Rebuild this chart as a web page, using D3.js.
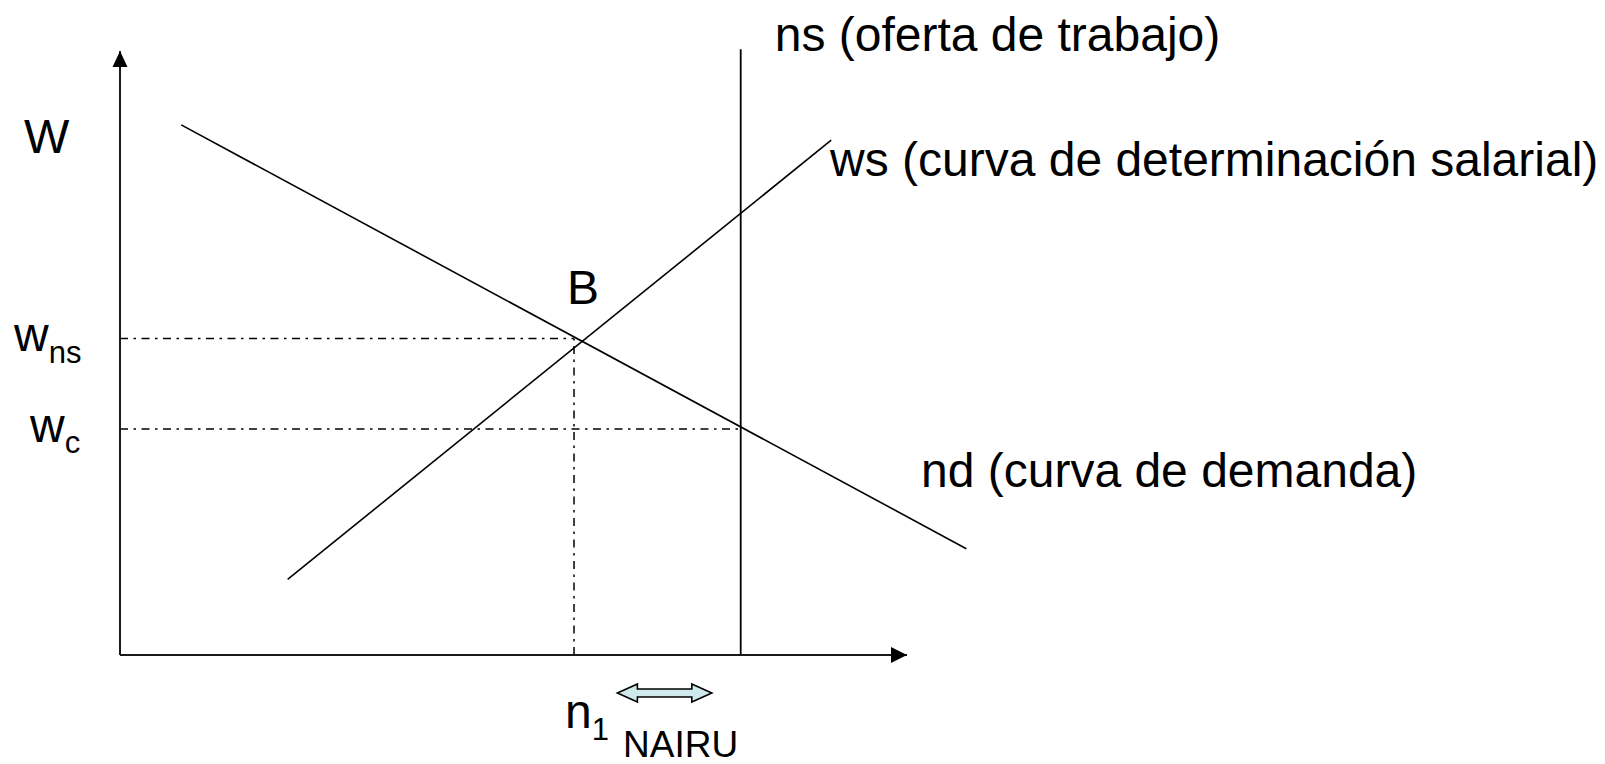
<!DOCTYPE html>
<html>
<head>
<meta charset="utf-8">
<script src="https://cdn.jsdelivr.net/npm/d3@7"></script>
<style>
html,body{margin:0;padding:0;background:#fff;}
svg{display:block;}
text{font-family:"Liberation Sans",Arial,sans-serif;fill:#000;}
</style>
</head>
<body>
<svg id="chart" width="1605" height="764"></svg>
<script>
// ---- data (model units) ----
const ndCurve = [[0.778, 8.777], [10.754, 1.76]];      // nd (curva de demanda)
const wsCurve = [[2.13, 1.252], [9.037, 8.523]];       // ws (curva de determinación salarial)
const nsValue = 7.887;                                  // ns (oferta de trabajo)
const nsTop = 10.03;
const n1Value = 5.769;                                  // n1
const wnsValue = 5.24;                                  // w_ns
const wcValue = 3.74;                                   // w_c
const nairuRange = [6.32, 7.52];                        // NAIRU arrow span
const axisMax = [10, 10];
const curveLabels = ["ns (oferta de trabajo)", "ws (curva de determinación salarial)", "nd (curva de demanda)"];

const svg = d3.select("#chart");
const x = d3.scaleLinear().domain([0, axisMax[0]]).range([120, 907]);
const y = d3.scaleLinear().domain([0, axisMax[1]]).range([655, 51]);

const line = d3.line().x(d => x(d[0])).y(d => y(d[1]));

// dash-dot guide lines
const dashDot = "8,5.5,2.5,5.5";
svg.append("path").attr("d", line([[0, wnsValue], [n1Value, wnsValue]]))
  .attr("stroke", "#000").attr("stroke-width", 1.5).attr("stroke-dasharray", dashDot).attr("fill", "none");
svg.append("path").attr("d", line([[0, wcValue], [nsValue, wcValue]]))
  .attr("stroke", "#000").attr("stroke-width", 1.5).attr("stroke-dasharray", dashDot).attr("fill", "none");
svg.append("path").attr("d", line([[n1Value, 0], [n1Value, wnsValue]]))
  .attr("stroke", "#000").attr("stroke-width", 1.5).attr("stroke-dasharray", dashDot).attr("fill", "none");

// curves
svg.append("path").attr("d", line(ndCurve)).attr("stroke", "#000").attr("stroke-width", 1.6).attr("fill", "none");
svg.append("path").attr("d", line(wsCurve)).attr("stroke", "#000").attr("stroke-width", 1.6).attr("fill", "none");
svg.append("path").attr("d", line([[nsValue, 0], [nsValue, nsTop]])).attr("stroke", "#000").attr("stroke-width", 1.8).attr("fill", "none");

// axes
svg.append("path").attr("d", line([[0, 0], [0, axisMax[1]]])).attr("stroke", "#1a1a1a").attr("stroke-width", 2).attr("fill", "none");
svg.append("path").attr("d", line([[0, 0], [axisMax[0], 0]])).attr("stroke", "#1a1a1a").attr("stroke-width", 2).attr("fill", "none");
// arrowheads
const ax0 = x(0), ay0 = y(0), yTip = y(axisMax[1]), xTip = x(axisMax[0]);
svg.append("path").attr("d", `M${ax0},${yTip} L${ax0 - 7.5},${yTip + 16} L${ax0 + 7.5},${yTip + 16} Z`).attr("fill", "#000");
svg.append("path").attr("d", `M${xTip},${ay0} L${xTip - 16},${ay0 - 8} L${xTip - 16},${ay0 + 8} Z`).attr("fill", "#000");

// NAIRU double arrow
const ax1 = x(nairuRange[0]), ax2 = x(nairuRange[1]), acy = 693;
const hl = 20, hh = 9, sh = 4;
svg.append("path")
  .attr("d", `M${ax1},${acy} L${ax1 + hl},${acy - hh} L${ax1 + hl},${acy - sh} L${ax2 - hl},${acy - sh} L${ax2 - hl},${acy - hh} L${ax2},${acy} L${ax2 - hl},${acy + hh} L${ax2 - hl},${acy + sh} L${ax1 + hl},${acy + sh} L${ax1 + hl},${acy + hh} Z`)
  .attr("fill", "#cfe9ec").attr("stroke", "#000").attr("stroke-width", 1.6).attr("stroke-linejoin", "miter");

// texts
const fs = 48, sub = 31;
svg.append("text").attr("x", 24).attr("y", 153).attr("font-size", fs).text("W");
svg.append("text").attr("x", x(nsValue) + 34).attr("y", 51).attr("font-size", fs).text(curveLabels[0]);
svg.append("text").attr("x", 830).attr("y", 176).attr("font-size", fs).text(curveLabels[1]);
svg.append("text").attr("x", 921).attr("y", 487).attr("font-size", fs).text(curveLabels[2]);
svg.append("text").attr("x", 567).attr("y", 304).attr("font-size", fs).text("B");

const t1 = svg.append("text").attr("x", 14).attr("y", 351).attr("font-size", fs);
t1.append("tspan").text("w");
t1.append("tspan").attr("font-size", sub).attr("dy", 12).text("ns");
const t2 = svg.append("text").attr("x", 30).attr("y", 442).attr("font-size", fs);
t2.append("tspan").text("w");
t2.append("tspan").attr("font-size", sub).attr("dy", 11).text("c");
const t3 = svg.append("text").attr("x", 565).attr("y", 728).attr("font-size", fs);
t3.append("tspan").text("n");
t3.append("tspan").attr("font-size", sub).attr("dy", 12).text("1");
svg.append("text").attr("x", 623).attr("y", 757).attr("font-size", 37).text("NAIRU");
</script>
</body>
</html>
